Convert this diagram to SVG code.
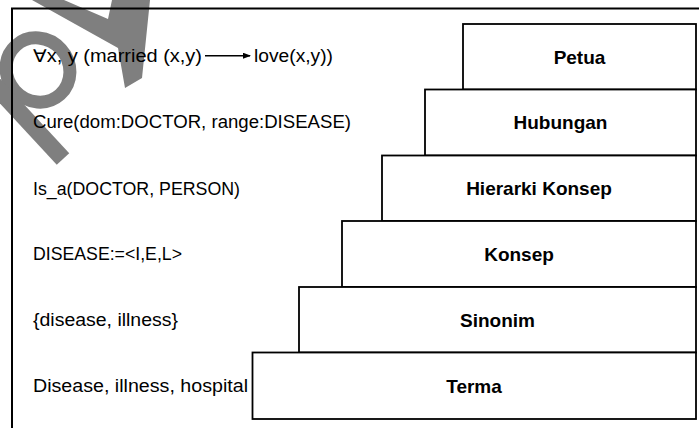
<svg xmlns="http://www.w3.org/2000/svg" width="699" height="428" viewBox="0 0 699 428">
  <style>
    .frame { fill: none; stroke: #000; stroke-width: 2; }
    .box { fill: #fff; stroke: #000; stroke-width: 1.8; }
    .lbl { font-family: "Liberation Sans", Arial, sans-serif; font-size: 19px; font-weight: bold; fill: #000; text-anchor: middle; }
    .txt { font-family: "Liberation Sans", "DejaVu Sans", Arial, sans-serif; font-size: 17.5px; fill: #000; }
    .wm { fill: none; stroke: #7f7f7f; }
  </style>
  <defs>
    <marker id="ah" markerWidth="8" markerHeight="6" refX="7" refY="3" orient="auto" markerUnits="userSpaceOnUse">
      <path d="M0,0 L8,3 L0,6 Z" fill="#000"/>
    </marker>
  </defs>
  <rect x="0" y="0" width="699" height="428" fill="#fff"/>
  <g id="watermark">
    <ellipse class="wm" cx="38" cy="70" rx="31" ry="33" stroke-width="13" transform="rotate(-42 38 70)"/>
    <line class="wm" x1="-12" y1="78" x2="63" y2="159" stroke-width="17"/>
    <polygon points="32,0 64,0 108,19 112,0 150,0 142,78 125,88 118,48" fill="#7f7f7f"/>
  </g>
  <polyline class="frame" points="12,430 12,8.5 700,8.5"/>
  <g id="formulas">
    <text class="txt" x="33" y="61.5" textLength="169" lengthAdjust="spacingAndGlyphs">∀x, y (married (x,y)</text>
    <text class="txt" x="254" y="61.5" textLength="79" lengthAdjust="spacingAndGlyphs">love(x,y))</text>
    <text class="txt" x="33" y="128" textLength="318" lengthAdjust="spacingAndGlyphs">Cure(dom:DOCTOR, range:DISEASE)</text>
    <text class="txt" x="33" y="194.5" textLength="207" lengthAdjust="spacingAndGlyphs">Is_a(DOCTOR, PERSON)</text>
    <text class="txt" x="33" y="259.5" textLength="149" lengthAdjust="spacingAndGlyphs">DISEASE:=&lt;I,E,L&gt;</text>
    <text class="txt" x="33" y="326" textLength="145" lengthAdjust="spacingAndGlyphs">{disease, illness}</text>
    <text class="txt" x="33" y="392" textLength="215" lengthAdjust="spacingAndGlyphs">Disease, illness, hospital</text>
  </g>
  <g id="connectors">
    <line x1="205" y1="55.7" x2="250" y2="55.7" stroke="#000" stroke-width="1.5" marker-end="url(#ah)"/>
  </g>
  <g id="petua">
    <rect class="box" x="463" y="24" width="233" height="65.5"/>
    <text class="lbl" x="579.5" y="63.5">Petua</text>
  </g>
  <g id="hubungan">
    <rect class="box" x="425" y="89.5" width="271" height="66"/>
    <text class="lbl" x="560.5" y="129">Hubungan</text>
  </g>
  <g id="hierarki-konsep">
    <rect class="box" x="382" y="155.5" width="314" height="65.5"/>
    <text class="lbl" x="539" y="195">Hierarki Konsep</text>
  </g>
  <g id="konsep">
    <rect class="box" x="342" y="221" width="354" height="66"/>
    <text class="lbl" x="519" y="260.5">Konsep</text>
  </g>
  <g id="sinonim">
    <rect class="box" x="299" y="287" width="397" height="65.5"/>
    <text class="lbl" x="497.5" y="326.5">Sinonim</text>
  </g>
  <g id="terma">
    <rect class="box" x="252.5" y="352.5" width="443.5" height="66.5"/>
    <text class="lbl" x="474" y="392.5">Terma</text>
  </g>
</svg>
